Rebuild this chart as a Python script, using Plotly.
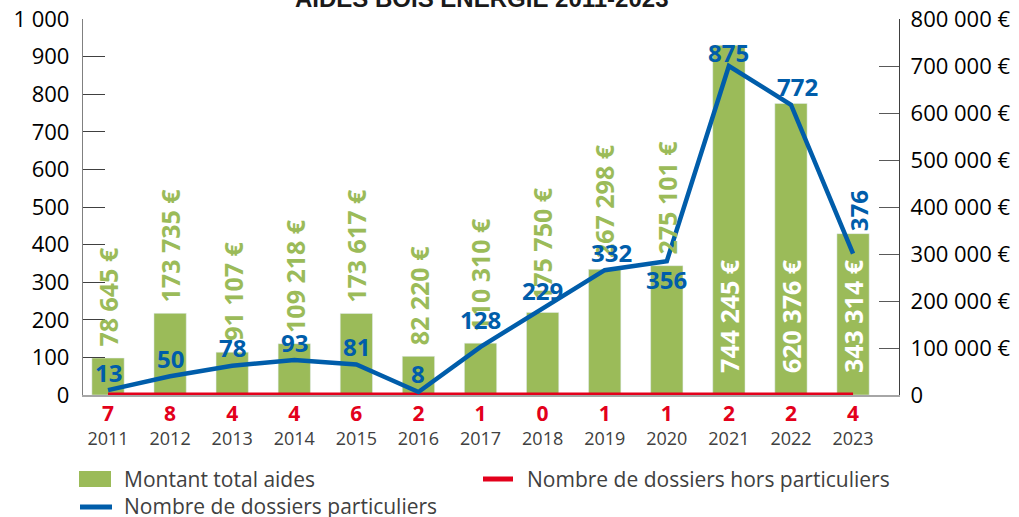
import plotly.graph_objects as go

# ---------------- data ----------------
years = ["2011", "2012", "2013", "2014", "2015", "2016", "2017",
         "2018", "2019", "2020", "2021", "2022", "2023"]
montant = [78645, 173735, 91107, 109218, 173617, 82220, 110310,
           175750, 267298, 275101, 744245, 620376, 343314]
particuliers = [13, 50, 78, 93, 81, 8, 128, 229, 332, 356, 875, 772, 376]
hors_particuliers = [7, 8, 4, 4, 6, 2, 1, 0, 1, 1, 2, 2, 4]
left_ticks = [0, 100, 200, 300, 400, 500, 600, 700, 800, 900, 1000]
right_ticks = [0, 100000, 200000, 300000, 400000, 500000, 600000, 700000, 800000]
title_text = "AIDES BOIS ÉNERGIE 2011-2023"
legend_names = ["Montant total aides", "Nombre de dossiers hors particuliers",
                "Nombre de dossiers particuliers"]

# ---------------- style ----------------
GREEN = "#9BBB59"
BLUE = "#005DAA"
RED = "#E3001B"
GRAY_TXT = "#404040"
FONT = "Open Sans"

W, H = 1019, 517
ML, MR, MT, MB = 83, 120, 19, 122
PW, PH = W - ML - MR, H - MT - MB


def px(x):
    return (x - ML) / PW


def py(y):
    return (H - MB - y) / PH


def fmt(v):
    return f"{v:,}".replace(",", " ")


x = list(range(len(years)))

# x tick labels: red "hors particuliers" value above each year
xtick_text = [
    f"<span style='color:{RED};font-size:21px;font-weight:bold'>{h}</span><br>{yr}"
    for h, yr in zip(hors_particuliers, years)
]

fig = go.Figure()

fig.add_trace(go.Bar(
    x=x, y=montant, name=legend_names[0], marker_color=GREEN,
    width=0.52, yaxis="y", showlegend=False, hoverinfo="skip",
))

fig.add_trace(go.Scatter(
    x=x, y=hors_particuliers, name=legend_names[1], mode="lines",
    line=dict(color=RED, width=5), yaxis="y",
    cliponaxis=False, showlegend=False, hoverinfo="skip",
))

fig.add_trace(go.Scatter(
    x=x, y=particuliers, name=legend_names[2], mode="lines",
    line=dict(color=BLUE, width=4.5), yaxis="y2",
    showlegend=False, hoverinfo="skip",
))

annotations = []

# bar value labels (rotated)
inside_from = 10
for i, v in enumerate(montant):
    if i < inside_from:
        annotations.append(dict(
            x=i, y=v, xref="x", yref="y", text=f"<b>{fmt(v)} €</b>",
            textangle=-90, showarrow=False, xanchor="center", yanchor="bottom",
            yshift=9, font=dict(family=FONT, size=25, color=GREEN),
        ))
    else:
        annotations.append(dict(
            x=i, y=0, xref="x", yref="y", text=f"<b>{fmt(v)} €</b>",
            textangle=-90, showarrow=False, xanchor="center", yanchor="bottom",
            yshift=20, font=dict(family=FONT, size=25, color="white"),
        ))

# blue line labels
label_shift = {6: 27, 9: -18, 10: 14}
label_xshift = {8: 7, 11: 7}
for i, v in enumerate(particuliers):
    if i == len(particuliers) - 1:
        annotations.append(dict(
            x=i, y=v, xref="x", yref="y2", text=f"<b>{v}</b>", textangle=-90,
            showarrow=False, xanchor="center", yanchor="bottom", yshift=20,
            xshift=5, font=dict(family=FONT, size=24, color=BLUE),
        ))
    else:
        annotations.append(dict(
            x=i, y=v, xref="x", yref="y2", text=f"<b>{v}</b>",
            showarrow=False, xanchor="center", yanchor="middle",
            yshift=label_shift.get(i, 18), xshift=label_xshift.get(i, 0),
            font=dict(family=FONT, size=24, color=BLUE),
        ))

# title (partly cut at the top, as in the reference)
annotations.append(dict(
    x=0.5, y=1, xref="paper", yref="paper", xanchor="center", yanchor="bottom",
    yshift=5, xshift=-9, showarrow=False, text=f"<b>{title_text}</b>",
    font=dict(family="Liberation Sans", size=24, color="#1a1a1a"),
))

# legend (custom)
shapes = [
    dict(type="rect", xref="paper", yref="paper", x0=px(79), x1=px(111),
         y0=py(487), y1=py(471), fillcolor=GREEN, line=dict(width=0)),
    dict(type="line", xref="paper", yref="paper", x0=px(483), x1=px(513),
         y0=py(479), y1=py(479), line=dict(color=RED, width=5)),
    dict(type="line", xref="paper", yref="paper", x0=px(80), x1=px(112),
         y0=py(507), y1=py(507), line=dict(color=BLUE, width=5)),
]
for name, lx, ly in [(legend_names[0], 122, 479), (legend_names[1], 525, 479),
                     (legend_names[2], 122, 506)]:
    annotations.append(dict(
        x=px(lx), y=py(ly), xref="paper", yref="paper", xanchor="left",
        yanchor="middle", showarrow=False, text=name,
        font=dict(family=FONT, size=21, color=GRAY_TXT),
    ))

fig.update_layout(
    width=W, height=H,
    margin=dict(l=ML, r=MR, t=MT, b=MB, autoexpand=False),
    paper_bgcolor="white", plot_bgcolor="white",
    showlegend=False,
    bargap=0.48,
    xaxis=dict(
        range=[-0.403, 12.74], tickvals=x, ticktext=xtick_text, automargin=False,
        showgrid=False, zeroline=False, showline=True, linecolor="#a6a6a6",
        linewidth=1.5, ticks="", ticklabelstandoff=3,
        tickfont=dict(family=FONT, size=18, color=GRAY_TXT),
    ),
    yaxis=dict(
        side="right", range=[0, 800000], tickvals=right_ticks, automargin=False,
        ticktext=[fmt(v) + " €" if v else "0" for v in right_ticks],
        showgrid=False, zeroline=False, showline=True, linecolor="#404040",
        linewidth=1.3, ticks="inside", ticklen=20, tickwidth=1.3,
        tickcolor="#595959", ticklabelstandoff=6,
        tickfont=dict(family=FONT, size=22, color="black"),
    ),
    yaxis2=dict(
        side="left", overlaying="y", range=[0, 1000], tickvals=left_ticks,
        ticktext=[fmt(v) for v in left_ticks], automargin=False,
        showgrid=False, zeroline=False, showline=True, linecolor="#808080",
        linewidth=1.3, ticks="inside", ticklen=22, tickwidth=1.3,
        tickcolor="#404040", ticklabelstandoff=8,
        tickfont=dict(family=FONT, size=22, color="black"),
    ),
    annotations=annotations,
    shapes=shapes,
)

fig.write_html(
    "out.html",
    config={"displayModeBar": False},
    post_script="document.body.style.margin='0';document.body.style.overflow='hidden';",
)
